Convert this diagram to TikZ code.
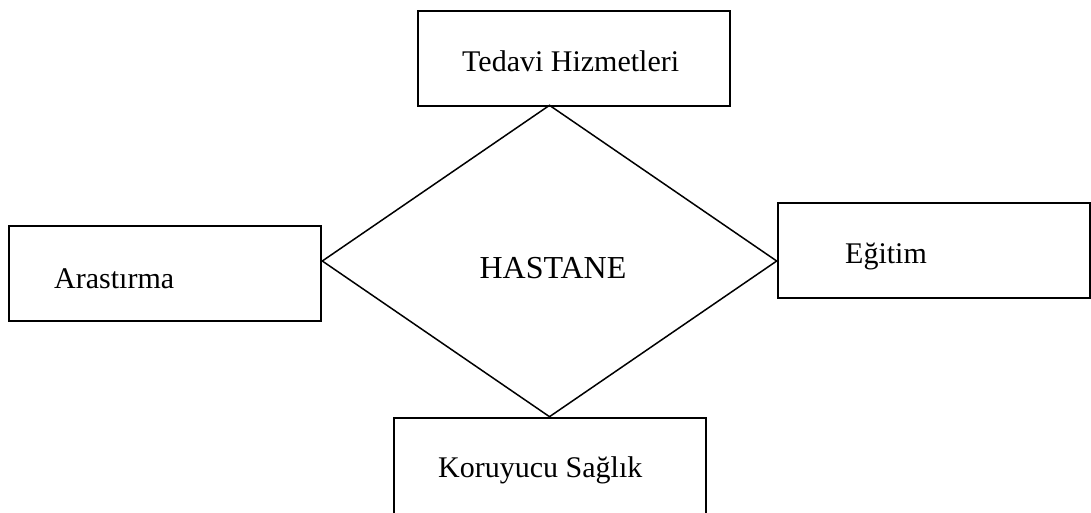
\documentclass[tikz,border=0pt]{standalone}
\usepackage{fontspec}
\setmainfont{Liberation Serif}
\usetikzlibrary{shapes.geometric}
\begin{document}
\begin{tikzpicture}[x=1pt,y=-1pt,
  box/.style={draw,line width=1.5pt,rectangle,minimum width=312pt,minimum height=95pt,inner sep=0pt,anchor=north west},
  lbl/.style={anchor=base west,inner sep=0pt,font=\fontsize{30}{36}\selectfont},
  hub/.style={draw,line width=1.5pt,diamond,minimum width=455pt,minimum height=312pt,inner sep=0pt},
  hublbl/.style={anchor=base,inner sep=0pt,font=\fontsize{32}{38}\selectfont}]
\clip (0,0) rectangle (1091,512);
\fill[white] (0,0) rectangle (1091,512);
% central diamond
\node[hub] (hub) at (549.5,261) {};
\node[hublbl] (hubtext) at (553,278) {HASTANE};
% surrounding boxes
\node[box] (top) at (417,10) {};
\node[lbl] (toptext) at (462,71) {Tedavi Hizmetleri};
\node[box] (left) at (8,225) {};
\node[lbl] (lefttext) at (54,288) {Arastırma};
\node[box] (right) at (777,202) {};
\node[lbl] (righttext) at (845,263) {Eğitim};
\node[box,minimum height=110pt] (bottom) at (393,417) {};
\node[lbl] (bottomtext) at (438,477) {Koruyucu Sağlık};
\end{tikzpicture}
\end{document}
